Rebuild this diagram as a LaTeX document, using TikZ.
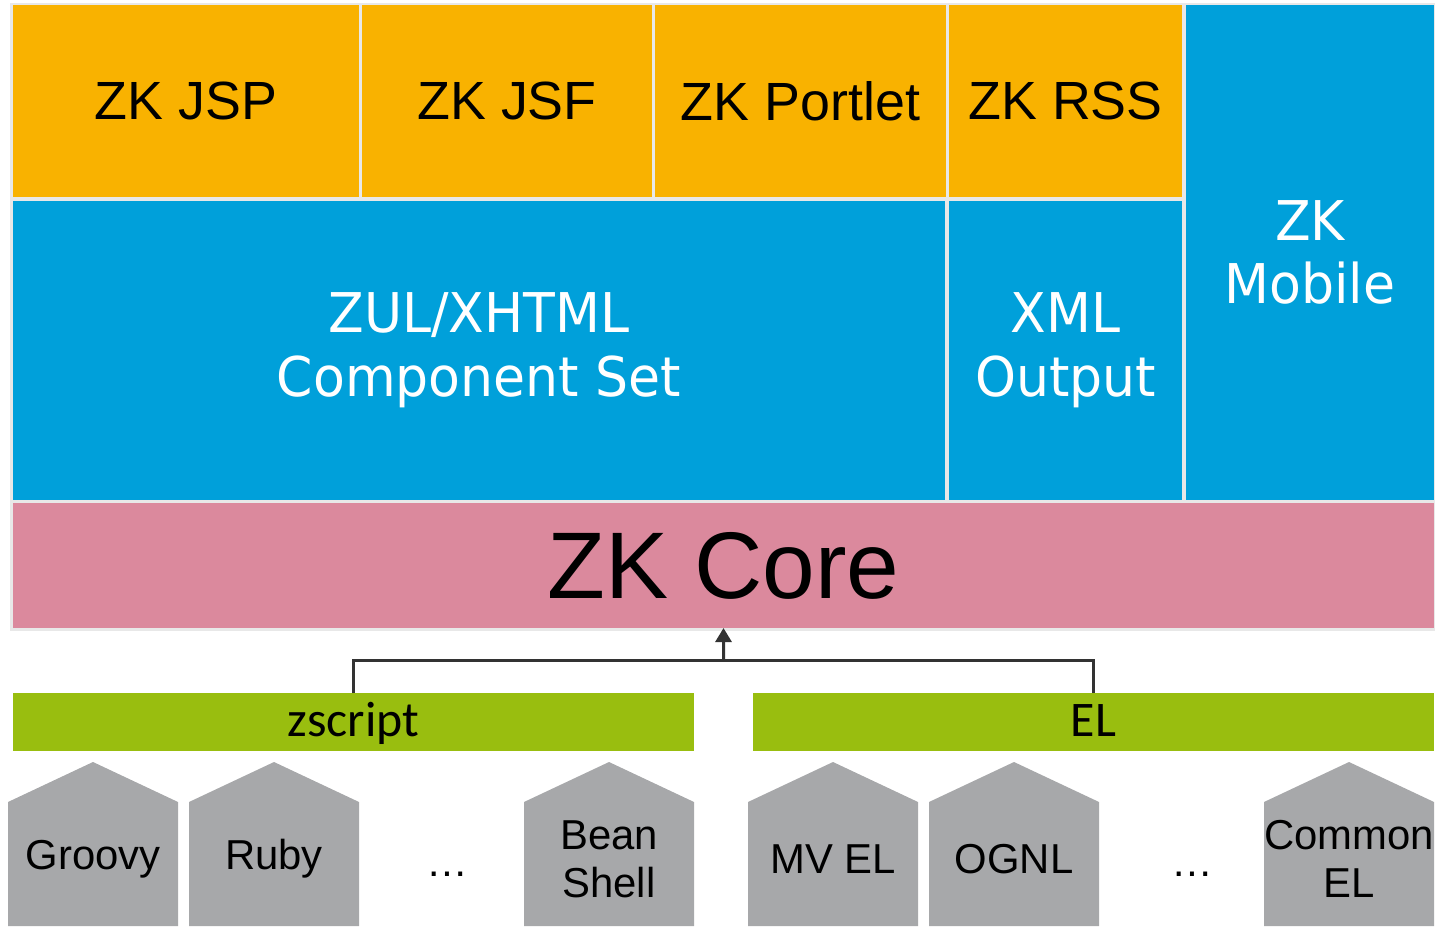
\documentclass[tikz,border=0pt]{standalone}
\usepackage{fontspec}
\setmainfont{Liberation Sans}
\newfontfamily\tahomafont[FakeStretch=0.95]{DejaVu Sans}
\newfontfamily\calibrifont{Carlito}
\usetikzlibrary{positioning, arrows.meta, backgrounds}
\definecolor{zkorange}{HTML}{F9B200}
\definecolor{zkblue}{HTML}{00A0DA}
\definecolor{zkpink}{HTML}{DB899D}
\definecolor{zkgreen}{HTML}{99BE0F}
\definecolor{housegray}{HTML}{A7A8AA}
\definecolor{panelgray}{HTML}{E8E8E8}
\definecolor{linkgray}{HTML}{333333}
\tikzset{
tile/.style={inner sep=0pt, outer sep=0pt, align=center}, % shared by every block
webbox/.style={tile, fill=zkorange, minimum height=192bp, font=\fontsize{54}{64}\selectfont},
compbox/.style={tile, fill=zkblue, text=white, font=\tahomafont\fontsize{55}{64}\selectfont},
corebox/.style={tile, fill=zkpink, minimum height=125bp, font=\fontsize{95}{100}\selectfont},
langbar/.style={tile, fill=zkgreen, minimum width=681bp, minimum height=58bp, text height=33bp, text depth=5bp, font=\calibrifont\fontsize{50}{56}\selectfont},
house/.style={tile, minimum width=170bp, minimum height=114bp, font=\fontsize{42}{48}\selectfont}, % roof is filled below
more/.style={inner sep=0pt, anchor=base, font=\fontsize{42}{48}\selectfont},
link/.style={draw=linkgray, line width=3bp},
}
\begin{document}
\begin{tikzpicture}[x=1bp, y=-1bp]
\useasboundingbox (0,0) rectangle (1435,926);
% web layer
\node[webbox, minimum width=346bp, anchor=north west] (jsp) at (13,5) {ZK JSP};
\node[webbox, minimum width=290bp, right=3bp of jsp] (jsf) {ZK JSF};
\node[webbox, minimum width=291bp, right=3bp of jsf] (portlet) {ZK Portlet};
\node[webbox, minimum width=233bp, right=3bp of portlet] (rss) {ZK RSS};
\node[compbox, minimum width=248bp, minimum height=495bp, right=4bp of rss.north east, anchor=north west] (mobile) {ZK\\Mobile};
% components
\node[compbox, minimum width=932bp, minimum height=299bp, below=4bp of jsp.south west, anchor=north west] (zul) {ZUL/XHTML\\Component Set};
\node[compbox, minimum width=233bp, minimum height=299bp, right=4bp of zul] (xml) {XML\\Output};
\node[corebox, minimum width=1421bp, below=3bp of zul.south west, anchor=north west] (core) {ZK Core};
% scripting
\node[langbar, anchor=north west] (zscript) at (13,693) {zscript};
\node[langbar, right=59bp of zscript] (el) {EL};
\node[house, anchor=north west] (groovy) at (8,802) {Groovy};
\node[house, right=11bp of groovy] (ruby) {Ruby};
\node[house, right=165bp of ruby] (bean) {Bean\\Shell};
\node[house, right=54bp of bean] (mvel) {MV EL};
\node[house, right=11bp of mvel] (ognl) {OGNL};
\node[house, right=165bp of ognl] (commonel) {Common\\EL};
\node[more] (dotsa) at (447,876) {…};
\node[more] (dotsb) at (1192,876) {…};
\coordinate (hub) at (723.5,660);
\draw[link] (zscript.north) |- (hub) -| (el.north);
\draw[link, -{Triangle[length=14bp, width=16bp]}] (hub) -- (core.south);
\begin{scope}[on background layer]
\fill[panelgray] (10,3) rectangle (1435,631);
\foreach \h in {groovy, ruby, bean, mvel, ognl, commonel}
  \fill[housegray] ([yshift=-10bp]\h.south west) -- (\h.north west) -- ([yshift=40bp]\h.north)
    -- (\h.north east) -- ([yshift=-10bp]\h.south east) -- cycle;
\end{scope}
\end{tikzpicture}
\end{document}
